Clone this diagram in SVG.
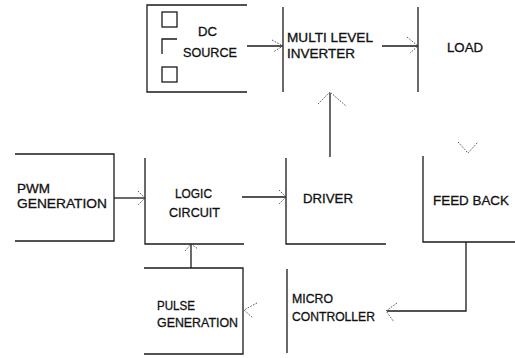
<svg xmlns="http://www.w3.org/2000/svg" width="515" height="358" viewBox="0 0 515 358">
<style>
.l{stroke:#1a1a1a;stroke-width:1.3;fill:none}
.a{stroke:#444;stroke-width:0.9;fill:none;stroke-dasharray:1.6 1.4}
.t{font-family:"Liberation Sans",Arial,sans-serif;font-size:13px;fill:#111;stroke:#111;stroke-width:0.3}
</style>
<rect width="515" height="358" fill="#fff"/>
<g id="dc-source">
<path class="l" d="M247,5 H147 V92 H247"/>
<rect class="l" x="162" y="12" width="15" height="15"/>
<path class="l" d="M162,54 V39 H177"/>
<rect class="l" x="162" y="67" width="15" height="15"/>
<text class="t" x="198" y="36" textLength="19" lengthAdjust="spacingAndGlyphs">DC</text>
<text class="t" x="183" y="57" textLength="54" lengthAdjust="spacingAndGlyphs">SOURCE</text>
</g>
<g id="multilevel-inverter">
<path class="l" d="M283,7 V92"/>
<text class="t" x="287" y="42" textLength="86" lengthAdjust="spacingAndGlyphs">MULTI LEVEL</text>
<text class="t" x="287" y="58" textLength="68" lengthAdjust="spacingAndGlyphs">INVERTER</text>
</g>
<g id="load">
<path class="l" d="M418,7 V92"/>
<text class="t" x="447" y="52" textLength="36" lengthAdjust="spacingAndGlyphs">LOAD</text>
</g>
<g id="pwm-generation">
<path class="l" d="M15,154 H114 V241 H15"/>
<text class="t" x="17" y="193" textLength="33" lengthAdjust="spacingAndGlyphs">PWM</text>
<text class="t" x="17" y="208" textLength="90" lengthAdjust="spacingAndGlyphs">GENERATION</text>
</g>
<g id="logic-circuit">
<path class="l" d="M145,158 V244 H244"/>
<text class="t" x="175" y="198" textLength="37" lengthAdjust="spacingAndGlyphs">LOGIC</text>
<text class="t" x="169" y="217" textLength="51" lengthAdjust="spacingAndGlyphs">CIRCUIT</text>
</g>
<g id="driver">
<path class="l" d="M286,158 V244 H386"/>
<text class="t" x="303" y="203" textLength="50" lengthAdjust="spacingAndGlyphs">DRIVER</text>
</g>
<g id="feed-back">
<path class="l" d="M423,156 V242 H515"/>
<text class="t" x="433" y="205" textLength="76" lengthAdjust="spacingAndGlyphs">FEED BACK</text>
</g>
<g id="pulse-generation">
<path class="l" d="M144,268 H243 V354 H144"/>
<text class="t" x="157" y="310" textLength="38" lengthAdjust="spacingAndGlyphs">PULSE</text>
<text class="t" x="157" y="327" textLength="81" lengthAdjust="spacingAndGlyphs">GENERATION</text>
</g>
<g id="micro-controller">
<path class="l" d="M287,269 V353"/>
<text class="t" x="292" y="303" textLength="41" lengthAdjust="spacingAndGlyphs">MICRO</text>
<text class="t" x="292" y="321" textLength="83" lengthAdjust="spacingAndGlyphs">CONTROLLER</text>
</g>
<g id="connectors">
<path class="l" d="M247,46 H283"/>
<path class="a" d="M272,40 L283,46 L273,52"/>
<path class="l" d="M382,46 H418"/>
<path class="a" d="M407,37 L418,46 L410,53"/>
<path class="l" d="M330,157 V93"/>
<path class="a" d="M318,104 L330,92 L346,106"/>
<path class="a" d="M458,142 L468,153 L478,142"/>
<path class="l" d="M114,198 H145"/>
<path class="a" d="M138,191 L145,198 L138,205"/>
<path class="l" d="M242,197 H286"/>
<path class="a" d="M279,190 L286,197 L279,204"/>
<path class="l" d="M466,242 V311 H387"/>
<path class="a" d="M397,303 L386,311 L394,322"/>
<path class="a" d="M257,303 L244,310 L253,318"/>
<path class="l" d="M191,268 V244"/>
<path class="a" d="M185,251 L191,244 L198,249"/>
</g>
</svg>
